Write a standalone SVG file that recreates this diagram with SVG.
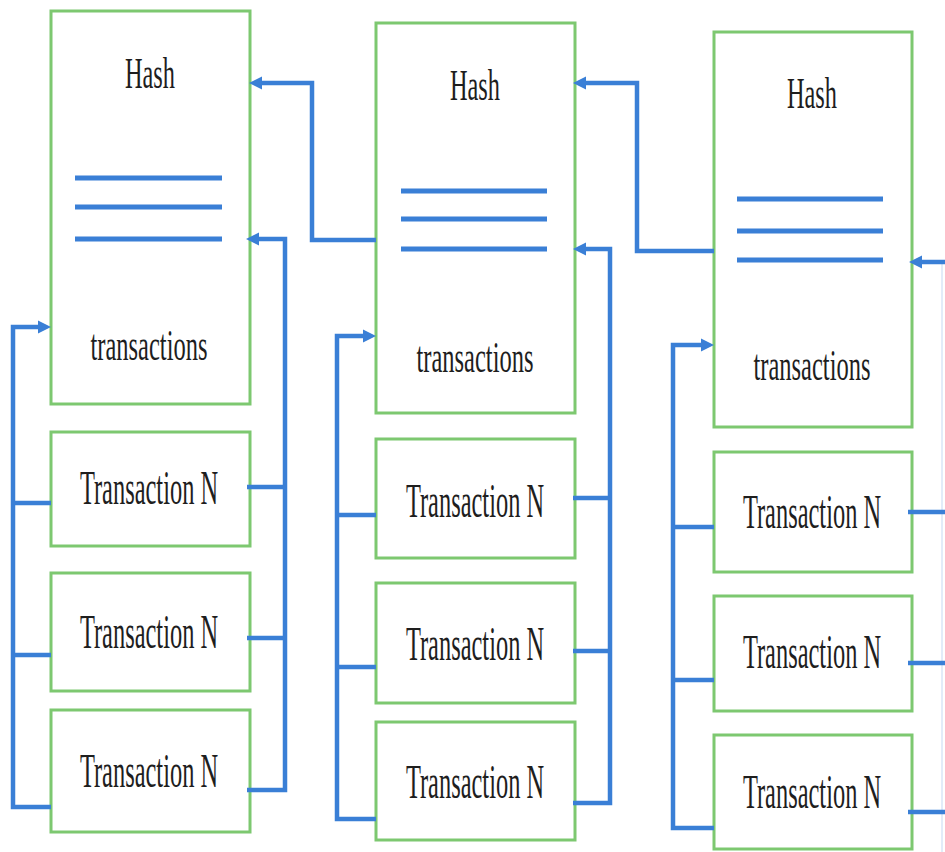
<svg xmlns="http://www.w3.org/2000/svg" width="945" height="852" viewBox="0 0 945 852">
  <style>
    .box { fill: #ffffff; stroke: #7dc870; stroke-width: 3; }
    .bar { stroke: #3a7fd6; stroke-width: 5; fill: none; }
    .wire { stroke: #3a7fd6; stroke-width: 4.5; fill: none; stroke-linejoin: miter; }
    .wire-arrow { stroke: #3a7fd6; stroke-width: 4.5; fill: none; marker-end: url(#head); }
    .lbl { font-family: "Liberation Serif", "Times New Roman", serif; fill: #1e1e1e; text-anchor: middle; }
    .hash { font-size: 44px; }
    .txs { font-size: 44px; }
    .tx { font-size: 48px; }
  </style>
  <defs>
    <marker id="head" markerUnits="userSpaceOnUse" markerWidth="15" markerHeight="15" viewBox="0 0 15 15" refX="5" refY="7.5" orient="auto">
      <path d="M1,1 L14,7.5 L1,14 Z" fill="#3a7fd6"/>
    </marker>
  </defs>

  <rect width="945" height="852" fill="#ffffff"/>

  <!-- Block 1 -->
  <g id="block1">
    <rect class="box" x="51" y="11" width="199" height="393"/>
    <text class="lbl hash" transform="translate(150,88) scale(0.553,1)">Hash</text>
    <line class="bar" x1="75" y1="178" x2="222" y2="178"/>
    <line class="bar" x1="75" y1="207" x2="222" y2="207"/>
    <line class="bar" x1="75" y1="239" x2="222" y2="239"/>
    <text class="lbl txs" transform="translate(149,360) scale(0.557,1)">transactions</text>
  </g>
  <g id="block1-tx1">
    <rect class="box" x="51" y="432" width="199" height="114"/>
    <text class="lbl tx" transform="translate(149,504) scale(0.509,1)">Transaction N</text>
  </g>
  <g id="block1-tx2">
    <rect class="box" x="51" y="573" width="199" height="118"/>
    <text class="lbl tx" transform="translate(149,648) scale(0.509,1)">Transaction N</text>
  </g>
  <g id="block1-tx3">
    <rect class="box" x="51" y="710" width="199" height="122"/>
    <text class="lbl tx" transform="translate(149,787) scale(0.509,1)">Transaction N</text>
  </g>

  <!-- Block 2 -->
  <g id="block2">
    <rect class="box" x="376" y="23" width="199" height="390"/>
    <text class="lbl hash" transform="translate(475,100) scale(0.553,1)">Hash</text>
    <line class="bar" x1="401" y1="191" x2="547" y2="191"/>
    <line class="bar" x1="401" y1="219" x2="547" y2="219"/>
    <line class="bar" x1="401" y1="249" x2="547" y2="249"/>
    <text class="lbl txs" transform="translate(475,372) scale(0.557,1)">transactions</text>
  </g>
  <g id="block2-tx1">
    <rect class="box" x="376" y="439" width="199" height="119"/>
    <text class="lbl tx" transform="translate(475,517) scale(0.509,1)">Transaction N</text>
  </g>
  <g id="block2-tx2">
    <rect class="box" x="376" y="583" width="199" height="120"/>
    <text class="lbl tx" transform="translate(475,660) scale(0.509,1)">Transaction N</text>
  </g>
  <g id="block2-tx3">
    <rect class="box" x="376" y="722" width="199" height="118"/>
    <text class="lbl tx" transform="translate(475,798) scale(0.509,1)">Transaction N</text>
  </g>

  <!-- Block 3 -->
  <g id="block3">
    <rect class="box" x="714" y="32" width="198" height="395"/>
    <text class="lbl hash" transform="translate(812,108) scale(0.553,1)">Hash</text>
    <line class="bar" x1="737" y1="199" x2="883" y2="199"/>
    <line class="bar" x1="737" y1="231" x2="883" y2="231"/>
    <line class="bar" x1="737" y1="260" x2="883" y2="260"/>
    <text class="lbl txs" transform="translate(812,380) scale(0.557,1)">transactions</text>
  </g>
  <g id="block3-tx1">
    <rect class="box" x="714" y="452" width="198" height="120"/>
    <text class="lbl tx" transform="translate(812,528) scale(0.509,1)">Transaction N</text>
  </g>
  <g id="block3-tx2">
    <rect class="box" x="714" y="596" width="198" height="115"/>
    <text class="lbl tx" transform="translate(812,668) scale(0.509,1)">Transaction N</text>
  </g>
  <g id="block3-tx3">
    <rect class="box" x="714" y="735" width="198" height="114"/>
    <text class="lbl tx" transform="translate(812,808) scale(0.509,1)">Transaction N</text>
  </g>

  <!-- Connectors -->
  <g id="connectors">
    <!-- block 1: transactions into the body, and into the hash -->
    <path class="wire-arrow" d="M51 807 H13 V327 H42"/>
    <path class="wire" d="M51 503 H13 M51 655 H13"/>
    <path class="wire-arrow" d="M247 790 H285 V239 H255"/>
    <path class="wire" d="M247 487 H285 M247 638 H285"/>
    <!-- block 2 hash pointing back to block 1 -->
    <path class="wire-arrow" d="M376 240 H312 V83 H258"/>

    <!-- block 2 -->
    <path class="wire-arrow" d="M376 819 H337 V336 H367"/>
    <path class="wire" d="M376 515 H337 M376 667 H337"/>
    <path class="wire-arrow" d="M573 803 H610 V249 H582"/>
    <path class="wire" d="M573 498 H610 M573 651 H610"/>
    <!-- block 3 hash pointing back to block 2 -->
    <path class="wire-arrow" d="M714 251 H637 V83 H582"/>

    <!-- block 3 -->
    <path class="wire-arrow" d="M714 828 H673 V345 H705"/>
    <path class="wire" d="M714 527 H673 M714 680 H673"/>
    <path class="wire-arrow" d="M945 262 H918"/>
    <path class="wire" d="M908 512 H945 M908 663 H945 M908 812 H945"/>
    <line x1="942" y1="262" x2="942" y2="852" stroke="#3a7fd6" stroke-width="2" stroke-opacity="0.15"/>
  </g>
</svg>
